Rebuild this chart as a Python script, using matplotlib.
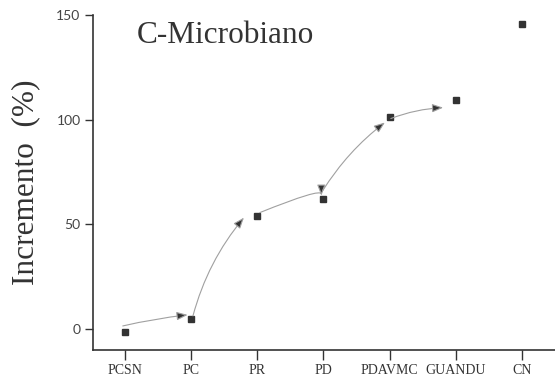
# C-Microbiano - incremento (%) por tratamento
import matplotlib
matplotlib.use('Agg')
import matplotlib.pyplot as plt

# dados
tratamentos = ['PCSN', 'PC', 'PR', 'PD', 'PDAVMC', 'GUANDU', 'CN']
incremento = [-1.6, 4.6, 54.0, 62.2, 101.2, 109.2, 145.7]
yticks = [0, 50, 100, 150]

# setas (inicio, fim, curvatura) entre tratamentos vizinhos
setas_ini = [(-0.03, 1.3), (1.03, 6.1), (2.04, 55.5), (2.99, 66.0), (4.02, 100.5)]
setas_fim = [(0.95, 6.6), (1.80, 53.1), (2.97, 63.6), (3.93, 98.6), (4.81, 105.7)]
setas_rad = [-0.03, -0.11, None, -0.09, -0.08]

serif = ['Liberation Serif', 'DejaVu Serif']
escuro = '#333333'

fig = plt.figure(figsize=(5.55, 3.77), dpi=100)
ax = fig.add_axes([93 / 555, 27 / 377, 462 / 555, 335 / 377])

x = list(range(len(tratamentos)))
ax.plot(x, incremento, linestyle='none', marker='s', markersize=5,
        color=escuro, zorder=3)

# setas curvas cinzas
for ini, fim, rad in zip(setas_ini, setas_fim, setas_rad):
    if rad is None:
        estilo = 'angle3,angleA=22,angleB=90'
    else:
        estilo = f'arc3,rad={rad}'
    ax.annotate('', xy=fim, xytext=ini,
                arrowprops=dict(arrowstyle='-|>,head_length=0.65,head_width=0.25',
                                connectionstyle=estilo, ec='#a0a0a0', fc=escuro,
                                lw=0.8, shrinkA=0, shrinkB=0))

ax.set_xlim(-0.48, 6.5)
ax.set_ylim(-10.2, 150)
ax.set_xticks(x)
ax.set_xticklabels(tratamentos, fontsize=10, family=serif, color=escuro)
ax.set_yticks(yticks)
ax.set_yticklabels([str(v) for v in yticks], fontsize=10, family=['Lato', 'DejaVu Sans'],
                   color='#444444')

for lado in ['top', 'right']:
    ax.spines[lado].set_visible(False)
for lado in ['left', 'bottom']:
    ax.spines[lado].set_color(escuro)
    ax.spines[lado].set_linewidth(1.2)
ax.tick_params(axis='y', length=6, width=1, color=escuro, pad=3)
ax.tick_params(axis='x', length=7, width=1, color=escuro, pad=3)

ax.set_ylabel('Incremento  (%)', fontsize=22.5, family=serif, color=escuro)
ax.yaxis.set_label_coords(-0.115, 0.5)

fig.text(137 / 555, 1 - 43 / 377, 'C-Microbiano', fontsize=22.5, family=serif,
         color=escuro, ha='left', va='baseline')

fig.savefig('out.png', dpi=100, facecolor='white')
